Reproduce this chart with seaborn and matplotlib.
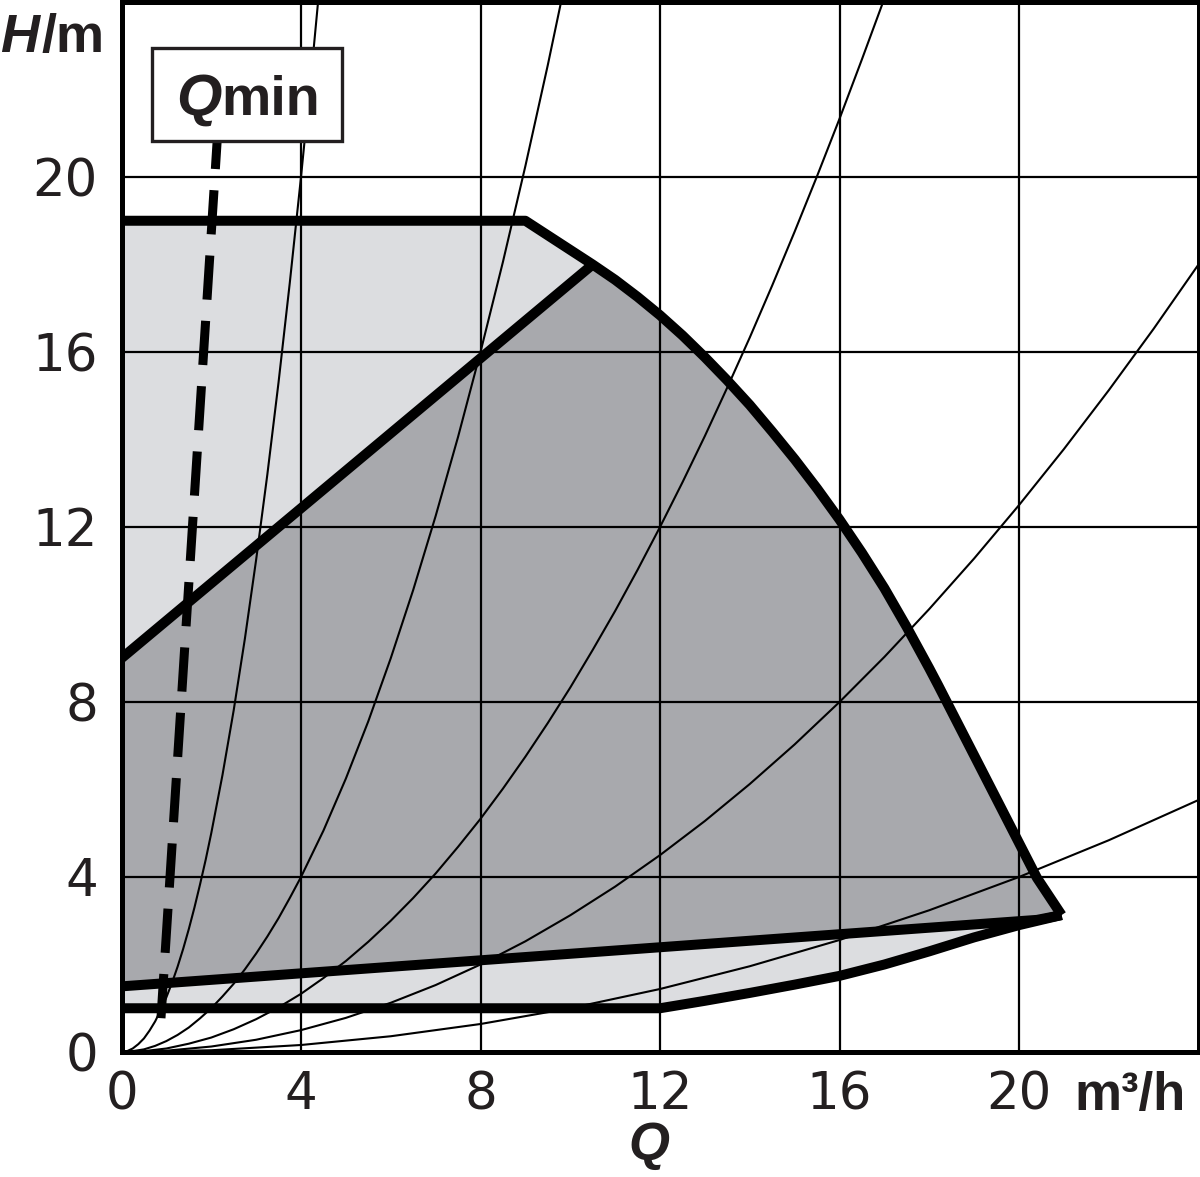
import matplotlib
matplotlib.use("Agg")
import matplotlib.pyplot as plt
from matplotlib.patches import Rectangle
import seaborn as sns

# ---------------- data ----------------
x_ticks = [0, 4, 8, 12, 16, 20]
y_ticks = [0, 4, 8, 12, 16, 20]
x_ticklabels = ["0", "4", "8", "12", "16", "20"]
y_ticklabels = ["0", "4", "8", "12", "16", "20"]

# thin system curves through the origin (Q in m3/h, H in m)
sys1_q = [0, 0.125, 0.25, 0.375, 0.5, 0.625, 0.75, 0.875, 1.0, 1.125, 1.25, 1.375, 1.5, 1.625,
          1.75, 1.875, 2.0, 2.25, 2.5, 2.75, 3.0, 3.25, 3.5, 3.75, 4.0, 4.25, 4.5]
sys1_h = [0, 0.02, 0.08, 0.18, 0.31, 0.49, 0.70, 0.96, 1.25, 1.58, 1.95, 2.36, 2.81, 3.30,
          3.83, 4.39, 5.0, 6.33, 7.81, 9.45, 11.25, 13.2, 15.31, 17.58, 20.0, 22.58, 25.31]
sys2_q = [0, 0.25, 0.5, 0.75, 1, 1.25, 1.5, 1.75, 2, 2.25, 2.5, 2.75, 3, 3.25, 3.5, 3.75, 4,
          4.5, 5, 5.5, 6, 6.5, 7, 7.5, 8, 8.5, 9, 9.5, 10]
sys2_h = [0, 0.02, 0.06, 0.14, 0.25, 0.39, 0.56, 0.77, 1.0, 1.27, 1.56, 1.89, 2.25, 2.64, 3.06, 3.52, 4.0,
          5.06, 6.25, 7.56, 9.0, 10.56, 12.25, 14.06, 16.0, 18.06, 20.25, 22.56, 25.0]
sys3_q = [0, 0.5, 1, 1.5, 2, 2.5, 3, 3.5, 4, 4.5, 5, 5.5, 6, 6.5, 7, 7.5, 8, 8.5, 9, 9.5, 10,
          10.5, 11, 11.5, 12, 12.5, 13, 13.5, 14, 14.5, 15, 15.5, 16, 16.5, 17]
sys3_h = [0, 0.02, 0.08, 0.19, 0.33, 0.52, 0.75, 1.02, 1.33, 1.69, 2.08, 2.52, 3.0, 3.52, 4.08, 4.69,
          5.33, 6.02, 6.75, 7.52, 8.33, 9.19, 10.08, 11.02, 12.0, 13.02, 14.08, 15.19, 16.33, 17.52,
          18.75, 20.02, 21.33, 22.69, 24.08]
sys4_q = [0, 1, 2, 3, 4, 5, 6, 7, 8, 9, 10, 11, 12, 13, 14, 15, 16, 17, 18, 19, 20, 21, 22, 23, 24]
sys4_h = [0, 0.03, 0.125, 0.28, 0.5, 0.78, 1.125, 1.53, 2.0, 2.53, 3.125, 3.78, 4.5, 5.28, 6.125,
          7.03, 8.0, 9.03, 10.125, 11.28, 12.5, 13.78, 15.125, 16.53, 18.0]
sys5_q = [0, 2, 4, 6, 8, 10, 12, 14, 16, 18, 20, 22, 24]
sys5_h = [0, 0.04, 0.16, 0.36, 0.64, 1.0, 1.44, 1.96, 2.56, 3.24, 4.0, 4.84, 5.76]

# max. curve (flat top then falling curve)
top_q = [0, 9]
top_h = [19, 19]
maxc_q = [9, 10.5, 11, 11.5, 12, 12.5, 13, 13.5, 14, 14.5, 15, 15.5, 16, 16.5, 17, 17.5, 18, 18.2,
          18.5, 19, 19.5, 20, 20.4, 20.95]
maxc_h = [19, 18, 17.65, 17.26, 16.84, 16.38, 15.88, 15.35, 14.79, 14.18, 13.55, 12.88, 12.17, 11.41,
          10.6, 9.71, 8.77, 8.38, 7.78, 6.78, 5.78, 4.78, 3.98, 3.13]

# dark-field boundaries
dtop_q = [0, 10.5]
dtop_h = [9, 18]
dbot_q = [0, 20.4, 20.95]
dbot_h = [1.5, 3.02, 3.13]

# light-field lower boundary
lbot_q = [0, 12, 13, 14, 15, 16, 17, 18, 19, 20, 20.95]
lbot_h = [1.0, 1.0, 1.17, 1.35, 1.54, 1.74, 2.0, 2.3, 2.62, 2.9, 3.13]

# Q_min marker line
qmin_q = [2.13, 0.87]
qmin_h = [20.8, 0.62]

# ---------------- style ----------------
LIGHT = "#dcdde0"
DARK = "#a8a9ad"
TXT = "#231f20"
BOLD_FONT = ["Liberation Sans", "DejaVu Sans"]

sns.set_theme(style="white")
plt.rcParams["font.family"] = ["DejaVu Sans"]

W, H = 1200, 1177
fig = plt.figure(figsize=(W / 100, H / 100), dpi=100)
ax = fig.add_axes([121.5 / W, (H - 1052) / H, (1198.5 - 121.5) / W, 1050 / H])
ax.set_xlim(0, 24)
ax.set_ylim(0, 24)
ax.margins(0)

# fields
light_q = [0] + top_q + maxc_q[1:] + lbot_q[::-1]
light_h = [1.0] + top_h + maxc_h[1:] + lbot_h[::-1]
ax.fill(light_q, light_h, color=LIGHT, lw=0, zorder=1)
dark_q = [0] + dtop_q + maxc_q[2:] + dbot_q[::-1]
dark_h = [1.5] + dtop_h + maxc_h[2:] + dbot_h[::-1]
ax.fill(dark_q, dark_h, color=DARK, lw=0, zorder=1.1)

# grid
ax.set_xticks(x_ticks)
ax.set_yticks(y_ticks)
ax.set_xticklabels(x_ticklabels)
ax.set_yticklabels(y_ticklabels)
ax.grid(True, color="black", linewidth=1.6)
ax.set_axisbelow(False)


def line(q, h, lw, z):
    sns.lineplot(x=q, y=h, ax=ax, color="black", linewidth=lw, sort=False,
                 estimator=None, legend=False, zorder=z,
                 solid_joinstyle="round", solid_capstyle="butt")


for q, h in [(sys1_q, sys1_h), (sys2_q, sys2_h), (sys3_q, sys3_h),
             (sys4_q, sys4_h), (sys5_q, sys5_h)]:
    line(q, h, 1.5, 3)

line(top_q + maxc_q[1:], top_h + maxc_h[1:], 7.2, 4)
line(dtop_q, dtop_h, 7.2, 4)
line(dbot_q, dbot_h, 7.2, 4)
line(lbot_q, lbot_h, 7.2, 4)

ax.plot(qmin_q, qmin_h, color="black", linewidth=6.5,
        linestyle=(1.9, (4.9, 2.35)), solid_capstyle="butt",
        dash_capstyle="butt", zorder=5)

# Qmin box
ax.add_patch(Rectangle((0.68, 20.82), 4.23, 2.13, facecolor="white",
                       edgecolor=TXT, linewidth=2.4, zorder=6))

for s in ax.spines.values():
    s.set_linewidth(3.6)
    s.set_color("black")
    s.set_zorder(7)

ax.tick_params(axis="both", length=0, labelsize=37, colors=TXT)
ax.tick_params(axis="y", pad=17)
ax.tick_params(axis="x", pad=13)
ax.set_xlabel("")
ax.set_ylabel("")


def px(x, y):
    return x / W, 1 - y / H


# H/m label
tH = fig.text(*px(0, 52), "H", fontsize=39, fontweight="bold", fontstyle="italic",
              family=BOLD_FONT, color=TXT, ha="left", va="baseline")
ax.annotate("/m", xy=(1, 0), xycoords=tH, xytext=(2, 0), textcoords="offset points",
            fontsize=39, fontweight="bold", family=BOLD_FONT, color=TXT,
            ha="left", va="bottom", annotation_clip=False)

# Qmin text
tQ = fig.text(*px(176, 115), "Q", fontsize=42, fontweight="bold", fontstyle="italic",
              family=BOLD_FONT, color=TXT, ha="left", va="baseline", zorder=8)
ax.annotate("min", xy=(1, 0), xycoords=tQ, fontsize=40, fontweight="bold",
            family=BOLD_FONT, color=TXT, ha="left", va="bottom", annotation_clip=False,
            zorder=8)

# unit label
fig.text(*px(1074, 1110), "m³/h", fontsize=38, fontweight="bold", color=TXT,
         family=BOLD_FONT, ha="left", va="baseline")

# Q axis label
fig.text(*px(649, 1160), "Q", fontsize=38, fontweight="bold", fontstyle="italic",
         family=BOLD_FONT, color=TXT, ha="center", va="baseline")

fig.savefig("out.png", dpi=100)
